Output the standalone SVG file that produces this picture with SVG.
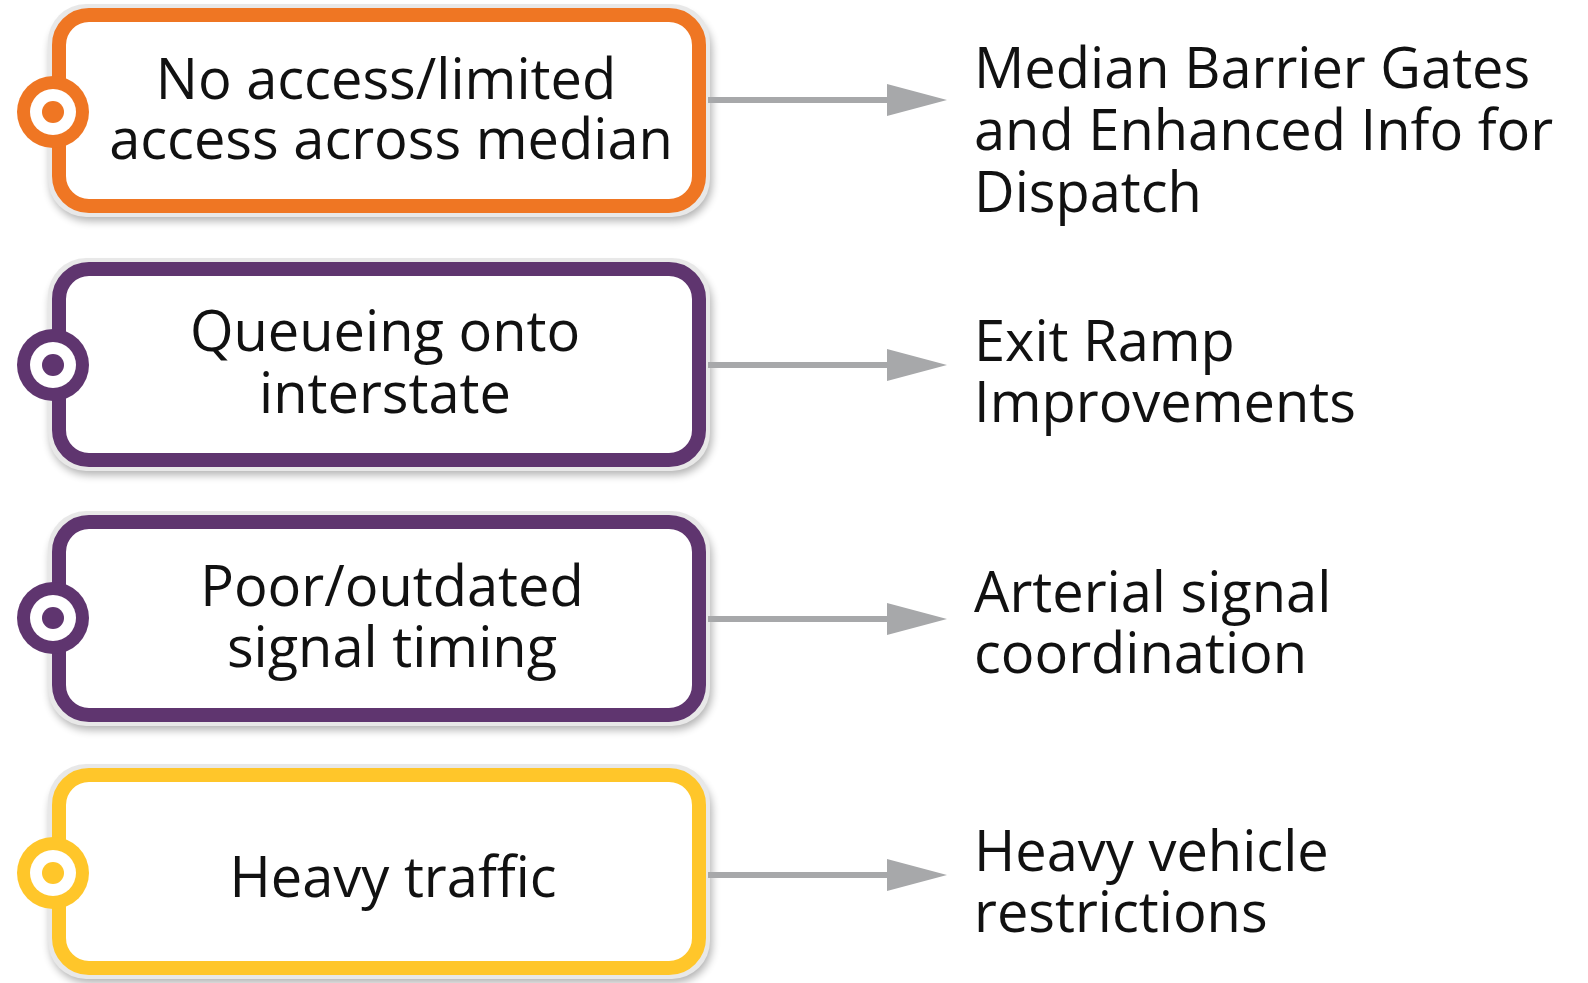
<svg xmlns="http://www.w3.org/2000/svg" width="1588" height="983" viewBox="0 0 1588 983">
<style>
  .rim{fill:#e8e8e8}
  .shadow{fill:#000;opacity:0.3;filter:url(#blur)}
  .box{fill:#fff;stroke-width:14}
  .lbl{font-family:"Open Sans","Noto Sans","Liberation Sans",sans-serif;font-size:56px;fill:#111}
  .mid{text-anchor:middle}
  .conn{stroke:#a7a8aa;stroke-width:6;fill:none}
  .o{stroke:#ef7623}.of{fill:#ef7623}
  .p{stroke:#5f356f}.pf{fill:#5f356f}
  .y{stroke:#ffc62a}.yf{fill:#ffc62a}
</style>
<defs>
  <filter id="blur" x="-10%" y="-10%" width="120%" height="130%"><feGaussianBlur stdDeviation="4"/></filter>
  <marker id="ah" markerUnits="userSpaceOnUse" markerWidth="60" markerHeight="32" refX="0" refY="16" orient="auto" viewBox="0 0 60 32">
    <path d="M0,0 L60,16 L0,32 z" fill="#a7a8aa"/>
  </marker>
</defs>
<rect width="1588" height="983" fill="#fff"/>

<g id="node1">
  <rect class="shadow" x="50" y="12" width="662" height="209" rx="38"/>
  <rect class="rim" x="48" y="4" width="662" height="213" rx="38"/>
  <rect class="box o" x="59" y="15" width="640" height="191" rx="30"/>
  <circle class="of" cx="53" cy="112" r="36"/>
  <circle fill="#fff" cx="53" cy="112" r="23"/>
  <circle class="of" cx="53" cy="112" r="11"/>
  <text class="lbl mid" x="386" y="99">No access/limited</text>
  <text class="lbl mid" x="391" y="159">access across median</text>
</g>

<g id="node2">
  <rect class="shadow" x="50" y="266" width="662" height="209" rx="38"/>
  <rect class="rim" x="48" y="258" width="662" height="213" rx="38"/>
  <rect class="box p" x="59" y="269" width="640" height="191" rx="30"/>
  <circle class="pf" cx="53" cy="365" r="36"/>
  <circle fill="#fff" cx="53" cy="365" r="23"/>
  <circle class="pf" cx="53" cy="365" r="11"/>
  <text class="lbl mid" x="385" y="351">Queueing onto</text>
  <text class="lbl mid" x="385" y="413">interstate</text>
</g>

<g id="node3">
  <rect class="shadow" x="50" y="519" width="662" height="211" rx="38"/>
  <rect class="rim" x="48" y="511" width="662" height="215" rx="38"/>
  <rect class="box p" x="59" y="522" width="640" height="193" rx="30"/>
  <circle class="pf" cx="53" cy="618" r="36"/>
  <circle fill="#fff" cx="53" cy="618" r="23"/>
  <circle class="pf" cx="53" cy="618" r="11"/>
  <text class="lbl mid" x="392" y="606">Poor/outdated</text>
  <text class="lbl mid" x="392" y="667">signal timing</text>
</g>

<g id="node4">
  <rect class="shadow" x="50" y="772" width="662" height="211" rx="38"/>
  <rect class="rim" x="48" y="764" width="662" height="215" rx="38"/>
  <rect class="box y" x="59" y="775" width="640" height="193" rx="30"/>
  <circle class="yf" cx="53" cy="873" r="36"/>
  <circle fill="#fff" cx="53" cy="873" r="23"/>
  <circle class="yf" cx="53" cy="873" r="11"/>
  <text class="lbl mid" x="393" y="897">Heavy traffic</text>
</g>

<g id="connectors">
  <line class="conn" x1="708" y1="100" x2="887" y2="100" marker-end="url(#ah)"/>
  <line class="conn" x1="708" y1="365" x2="887" y2="365" marker-end="url(#ah)"/>
  <line class="conn" x1="708" y1="619" x2="887" y2="619" marker-end="url(#ah)"/>
  <line class="conn" x1="708" y1="875" x2="887" y2="875" marker-end="url(#ah)"/>
</g>

<g id="target1">
  <text class="lbl" x="974" y="88">Median Barrier Gates</text>
  <text class="lbl" x="974" y="150">and Enhanced Info for</text>
  <text class="lbl" x="974" y="212">Dispatch</text>
</g>
<g id="target2">
  <text class="lbl" x="974" y="361">Exit Ramp</text>
  <text class="lbl" x="974" y="422">Improvements</text>
</g>
<g id="target3">
  <text class="lbl" x="974" y="612">Arterial signal</text>
  <text class="lbl" x="974" y="673">coordination</text>
</g>
<g id="target4">
  <text class="lbl" x="974" y="871">Heavy vehicle</text>
  <text class="lbl" x="974" y="932">restrictions</text>
</g>
</svg>
